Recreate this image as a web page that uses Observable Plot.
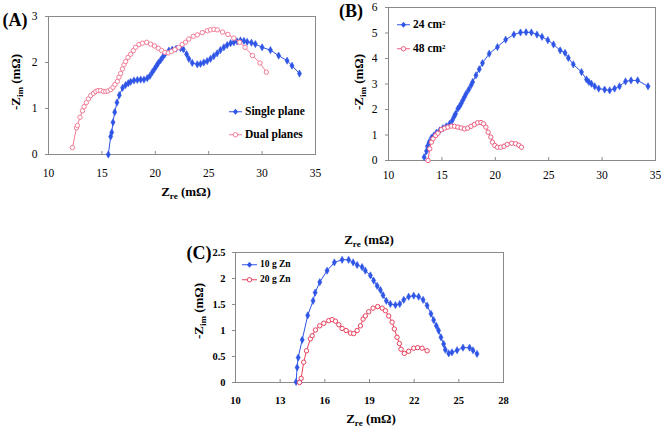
<!DOCTYPE html>
<html><head><meta charset="utf-8">
<script src="https://cdn.jsdelivr.net/npm/d3@7"></script>
<script src="https://cdn.jsdelivr.net/npm/@observablehq/plot@0.6"></script>
<style>
body{margin:0;background:#fff;}
#wrap{position:relative;width:661px;height:427px;overflow:hidden;font-family:"Liberation Serif","Times New Roman",serif;color:#000;}
.lab{position:absolute;font-weight:bold;white-space:nowrap;line-height:1;z-index:2;}
.t{font-size:13px;transform:translate(-50%,-50%);}
.rot{font-size:13px;transform:translate(-50%,-50%) rotate(-90deg);}
.lab sub{font-size:9px;vertical-align:-3px;line-height:0;}
.panel{font-size:18px;transform:translate(-50%,-50%);}
.leg{position:absolute;font-weight:bold;display:flex;align-items:center;white-space:nowrap;line-height:1;transform:translateY(-50%);z-index:2;}
.leg svg{margin-right:3px;}
.leg sup{font-size:0.6em;vertical-align:0.5em;line-height:0;}
</style></head><body><div id="wrap"></div>
<script>
// ---------- Panel A ----------
const aXTicks = [10, 15, 20, 25, 30, 35];
const aYTicks = [0, 1, 2, 3];
const aSingle = [[15.6,0],[15.82,0.39],[15.92,0.48],[16.04,0.70],[16.2,0.92],[16.41,1.13],[16.63,1.29],[16.94,1.45],[17.22,1.51],[17.47,1.55],[17.69,1.58],[18.0,1.61],[18.32,1.62],[18.63,1.63],[18.94,1.63],[19.25,1.66],[19.5,1.71],[19.72,1.79],[19.93,1.86],[20.12,1.93],[20.28,1.99],[20.5,2.05],[20.71,2.12],[20.9,2.18],[21.27,2.26],[21.59,2.28],[21.95,2.30],[22.36,2.31],[22.62,2.29],[22.93,2.18],[23.14,2.08],[23.46,1.99],[23.93,1.96],[24.23,1.97],[24.54,2.0],[24.86,2.03],[25.17,2.08],[25.48,2.14],[25.79,2.2],[26.1,2.27],[26.42,2.33],[26.73,2.38],[27.05,2.42],[27.35,2.44],[27.66,2.46],[27.97,2.48],[28.3,2.47],[28.6,2.45],[29.0,2.43],[29.37,2.40],[30.0,2.33],[30.78,2.27],[31.55,2.15],[32.34,2.04],[32.8,1.93],[33.5,1.76]];
const aDual = [[12.24,0.15],[12.62,0.58],[12.71,0.63],[12.95,0.81],[13.18,0.95],[13.33,1.04],[13.55,1.13],[13.74,1.21],[13.95,1.28],[14.2,1.33],[14.42,1.37],[14.64,1.39],[14.89,1.39],[15.14,1.37],[15.36,1.37],[15.57,1.38],[15.82,1.41],[16.04,1.46],[16.22,1.52],[16.45,1.59],[16.6,1.68],[16.76,1.76],[16.92,1.86],[17.07,1.95],[17.22,2.02],[17.44,2.11],[17.69,2.18],[17.94,2.26],[18.16,2.33],[18.47,2.39],[18.79,2.42],[19.19,2.44],[19.56,2.40],[19.93,2.36],[20.28,2.31],[20.59,2.26],[20.9,2.22],[21.21,2.21],[21.52,2.24],[21.83,2.28],[22.2,2.33],[22.52,2.39],[22.83,2.44],[23.14,2.51],[23.55,2.57],[23.93,2.60],[24.4,2.65],[24.86,2.69],[25.17,2.71],[25.48,2.72],[25.8,2.71],[26.3,2.66],[26.8,2.61],[27.35,2.53],[27.9,2.44],[28.4,2.33],[29.1,2.15],[29.8,1.99],[30.4,1.79]];
const aSeries = ["Single plane", "Dual planes"];

// ---------- Panel B ----------
const bXTicks = [10, 15, 20, 25, 30, 35];
const bYTicks = [0, 1, 2, 3, 4, 5, 6];
const b24 = [[13.34,0.13],[13.56,0.37],[13.65,0.56],[13.8,0.72],[14.02,0.89],[14.24,0.98],[14.49,1.09],[14.79,1.18],[15.1,1.27],[15.41,1.34],[15.72,1.44],[15.97,1.57],[16.15,1.73],[16.28,1.83],[16.49,2.03],[16.65,2.12],[16.8,2.23],[16.95,2.36],[17.11,2.49],[17.27,2.62],[17.51,2.78],[17.73,2.95],[17.88,3.08],[18.19,3.34],[18.5,3.58],[18.8,3.82],[19.43,4.19],[20.2,4.45],[20.97,4.74],[21.74,4.94],[22.36,5.02],[22.88,5.03],[23.38,5.02],[23.9,4.94],[24.37,4.85],[24.92,4.72],[25.45,4.55],[26.07,4.32],[26.53,4.22],[26.84,4.02],[27.3,3.77],[28.07,3.47],[28.54,3.18],[28.76,3.08],[29.0,3.01],[29.31,2.91],[29.68,2.82],[30.24,2.78],[30.71,2.75],[31.17,2.82],[31.63,2.91],[32.19,3.1],[32.71,3.14],[33.33,3.14],[34.3,2.91]];
const b48 = [[13.7,0],[13.86,0.46],[14.02,0.72],[14.17,0.85],[14.42,0.98],[14.63,1.07],[14.95,1.21],[15.26,1.27],[15.56,1.31],[15.87,1.35],[16.18,1.34],[16.49,1.31],[16.8,1.28],[17.11,1.24],[17.41,1.27],[17.73,1.34],[18.04,1.41],[18.34,1.48],[18.66,1.49],[18.9,1.44],[19.12,1.31],[19.33,1.11],[19.58,0.92],[19.73,0.72],[19.95,0.59],[20.2,0.52],[20.51,0.52],[20.82,0.56],[21.12,0.63],[21.53,0.68],[21.9,0.66],[22.2,0.6],[22.45,0.52]];
const bSeries = ["24 cm", "48 cm"];

// ---------- Panel C ----------
const cXTicks = [10, 13, 16, 19, 22, 25, 28];
const cYTicks = [0, 0.5, 1, 1.5, 2, 2.5];
const c10 = [[14.07,0.01],[14.14,0.29],[14.21,0.48],[14.48,0.82],[14.85,1.29],[15.21,1.57],[15.35,1.73],[15.66,1.93],[16.15,2.15],[16.64,2.31],[17.16,2.36],[17.6,2.36],[17.9,2.31],[18.17,2.26],[18.5,2.22],[18.72,2.15],[19.06,2.06],[19.28,1.96],[19.51,1.86],[19.73,1.78],[19.91,1.68],[20.13,1.57],[20.4,1.51],[20.74,1.49],[21.03,1.51],[21.3,1.59],[21.63,1.65],[21.97,1.67],[22.3,1.65],[22.6,1.59],[22.87,1.48],[23.13,1.32],[23.31,1.2],[23.49,1.09],[23.64,1.0],[23.8,0.87],[23.98,0.74],[24.09,0.63],[24.32,0.56],[24.54,0.58],[24.88,0.62],[25.28,0.67],[25.72,0.67],[25.95,0.62],[26.22,0.55]];
const c20 = [[14.3,0],[14.41,0.08],[14.58,0.39],[14.77,0.61],[15.03,0.84],[15.15,0.9],[15.37,1.01],[15.66,1.09],[15.93,1.14],[16.26,1.19],[16.49,1.21],[16.71,1.18],[16.94,1.11],[17.16,1.04],[17.43,1.0],[17.72,0.95],[17.94,0.94],[18.17,1.0],[18.39,1.09],[18.57,1.22],[18.72,1.28],[18.95,1.36],[19.24,1.43],[19.55,1.46],[19.85,1.43],[20.07,1.38],[20.29,1.28],[20.52,1.16],[20.67,1.03],[20.85,0.87],[21.01,0.75],[21.12,0.64],[21.34,0.56],[21.63,0.6],[21.97,0.66],[22.23,0.67],[22.53,0.66],[22.87,0.61]];
const cSeries = ["10 g Zn", "20 g Zn"];

const BLUE = "#2f55e6";
const PINK_A = "#f27d98";
const PINK_B = "#ee5f80";
const PINK_C = "#e8405e";
const GRID = "#8a8a8a";

const wrap = document.getElementById("wrap");
const toRows = arr => arr.map(([re, im]) => ({re, im}));
const fmt = d => String(d);

function panel(o) {
  const s1 = toRows(o.s1), s2 = toRows(o.s2);
  const svg = Plot.plot({
    width: o.w, height: o.h,
    marginLeft: o.ml, marginRight: o.mr, marginTop: o.mt, marginBottom: o.mb,
    x: {domain: o.xd},
    y: {domain: o.yd},
    style: {fontFamily: '"Liberation Serif","Times New Roman",serif', fontSize: o.fs + "px", fontWeight: o.bold ? "bold" : "normal", color: "#000", background: "transparent", overflow: "visible"},
    marks: [
      Plot.frame({stroke: GRID, strokeWidth: 1}),
      Plot.axisY({ticks: o.yt, tickFormat: fmt, tickSize: 3, tickPadding: o.yPad, label: null, stroke: GRID, fill: "#000"}),
      Plot.axisX({ticks: o.xt, tickFormat: fmt, tickSize: 0, tickPadding: o.xPad, label: null, fill: "#000"}),
      Plot.axisX({ticks: o.xt, tickSize: 3, dy: -3, tickFormat: () => "", label: null, stroke: GRID}),
      Plot.line(s1, {x: "re", y: "im", stroke: BLUE, strokeWidth: 1}),
      Plot.dot(s1, {x: "re", y: "im", symbol: "diamond", r: 2.2, fill: BLUE, stroke: BLUE, strokeWidth: 0.5}),
      Plot.line(s2, {x: "re", y: "im", stroke: o.pink, strokeWidth: 1}),
      Plot.dot(s2, {x: "re", y: "im", symbol: "circle", r: 2.2, fill: "white", stroke: o.pink, strokeWidth: 1})
    ]
  });
  svg.style.position = "absolute";
  svg.style.left = o.left + "px";
  svg.style.top = o.top + "px";
  svg.style.maxWidth = "none";
  wrap.appendChild(svg);
}

panel({s1: aSingle, s2: aDual, pink: PINK_A, xd: [10, 35], yd: [0, 3], xt: aXTicks, yt: aYTicks,
  left: 0, top: 0, w: 330, h: 200, ml: 48, mr: 15, mt: 16, mb: 46, fs: 11.5, bold: false, xPad: 14, yPad: 8});
panel({s1: b24, s2: b48, pink: PINK_B, xd: [10, 35], yd: [0, 6], xt: bXTicks, yt: bYTicks,
  left: 330, top: 0, w: 331, h: 200, ml: 58, mr: 6, mt: 7, mb: 40, fs: 11.5, bold: false, xPad: 10, yPad: 8});
panel({s1: c10, s2: c20, pink: PINK_C, xd: [10, 28], yd: [0, 2.5], xt: cXTicks, yt: cYTicks,
  left: 180, top: 220, w: 330, h: 200, ml: 55, mr: 7, mt: 32, mb: 38, fs: 10.5, bold: true, xPad: 14, yPad: 7});

function label(html, cls, x, y) {
  const d = document.createElement("div");
  d.className = "lab " + cls;
  d.innerHTML = html;
  d.style.left = x + "px"; d.style.top = y + "px";
  wrap.appendChild(d);
}
const ZRE = "Z<sub>re</sub> (mΩ)";
const ZIM = "-Z<sub>im</sub> (mΩ)";
label("(A)", "panel", 15, 20);
label("(B)", "panel", 351, 11);
label("(C)", "panel", 199, 253);
label(ZRE, "t", 186, 191);
label(ZRE, "t", 369, 239);
label(ZRE, "t", 371, 418);
label(ZIM, "rot", 15, 82);
label(ZIM, "rot", 358, 82);
label(ZIM, "rot", 198, 311);

function glyph(kind, color, w) {
  const m = w / 2;
  const mk = kind === "diamond"
    ? `<path d="M${m},1.5 L${m+2.6},4.5 L${m},7.5 L${m-2.6},4.5 Z" fill="${color}"/>`
    : `<circle cx="${m}" cy="4.5" r="2.2" fill="white" stroke="${color}" stroke-width="1"/>`;
  return `<svg width="${w}" height="9"><line x1="0" y1="4.5" x2="${w}" y2="4.5" stroke="${color}" stroke-width="1"/>${mk}</svg>`;
}
function legend(x, y, kind, color, w, text, fs) {
  const d = document.createElement("div");
  d.className = "leg";
  d.style.left = x + "px"; d.style.top = y + "px"; d.style.fontSize = fs + "px";
  d.innerHTML = glyph(kind, color, w) + `<span>${text}</span>`;
  wrap.appendChild(d);
}
legend(229, 112, "diamond", BLUE, 13, aSeries[0], 11.5);
legend(229, 135, "circle", PINK_A, 13, aSeries[1], 11.5);
legend(397, 25, "diamond", BLUE, 13, bSeries[0] + "<sup>2</sup>", 11.5);
legend(397, 49, "circle", PINK_B, 13, bSeries[1] + "<sup>2</sup>", 11.5);
legend(242, 265, "diamond", BLUE, 15, cSeries[0], 9.5);
legend(242, 280, "circle", PINK_C, 15, cSeries[1], 9.5);
</script></body></html>
